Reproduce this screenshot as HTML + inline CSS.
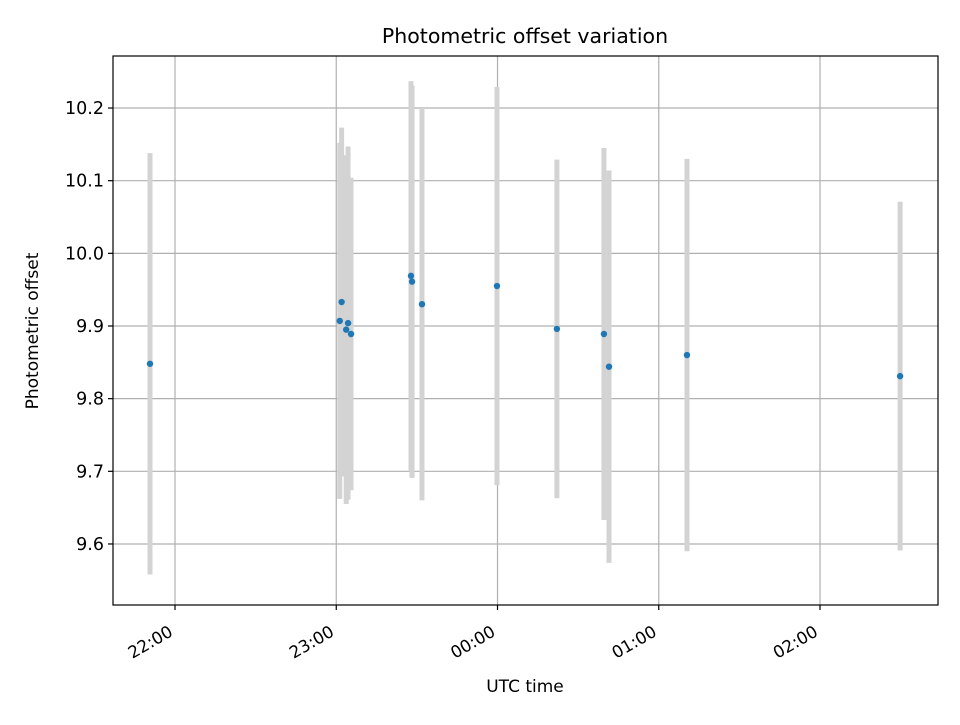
<!DOCTYPE html>
<html><head><meta charset="utf-8"><style>
body{margin:0;background:#fff}
svg text{font-family:"DejaVu Sans","Liberation Sans",sans-serif;fill:#000}
</style></head><body>
<svg id="c" width="960" height="720" xmlns="http://www.w3.org/2000/svg">
<rect width="960" height="720" fill="#fff"/>
<g id="grid"></g>
<g id="bars"></g>
<g id="pts"></g>
<rect x="113" y="56" width="825" height="549" fill="none" stroke="#000" stroke-width="1.2"/>
<g id="ticks"></g>
<text x="525" y="43" font-size="20.5" text-anchor="middle">Photometric offset variation</text>
<text x="525" y="692" font-size="17" text-anchor="middle">UTC time</text>
<text transform="translate(38,331) rotate(-90)" font-size="17" text-anchor="middle">Photometric offset</text>
</svg>
<script>
// minutes since 22:00 UTC
const times=[-9.3,61.3,62.0,63.7,64.4,65.5,87.8,88.2,91.9,119.8,142.1,159.6,161.5,190.5,269.8];
const values=[9.848,9.907,9.933,9.895,9.904,9.889,9.969,9.961,9.930,9.955,9.896,9.889,9.844,9.860,9.831];
const errors=[0.29,0.245,0.24,0.24,0.243,0.215,0.268,0.27,0.27,0.274,0.233,0.256,0.27,0.27,0.24];
const xTickVals=[0,60,120,180,240];
const xTickLabels=["22:00","23:00","00:00","01:00","02:00"];
const yTickVals=[9.6,9.7,9.8,9.9,10.0,10.1,10.2];
const yTickLabels=["9.6","9.7","9.8","9.9","10.0","10.1","10.2"];
const L=113,R=938,T=56,B=605;
const x0=-23.07,x1=283.9,y0=9.516,y1=10.2716;
const X=v=>L+(v-x0)/(x1-x0)*(R-L);
const Y=v=>B-(v-y0)/(y1-y0)*(B-T);
const NS="http://www.w3.org/2000/svg";
function mk(tag,attrs,parent){const e=document.createElementNS(NS,tag);for(const k in attrs)e.setAttribute(k,attrs[k]);document.getElementById(parent).appendChild(e);return e;}
xTickVals.forEach((v,i)=>{
 const g=mk('line',{x1:X(v),x2:X(v),y1:T,y2:B,stroke:'#b0b0b0','stroke-width':1.2},'grid');
 
 
 const t=mk('line',{x1:X(v),x2:X(v),y1:B,y2:B+5,stroke:'#000','stroke-width':1.2},'ticks');
 
 
 const l=mk('text',{'font-size':16.7,'text-anchor':'end',transform:`translate(${X(v)-1},${B+30}) rotate(-30)`},'ticks');
 l.textContent=xTickLabels[i];
 
 
});
yTickVals.forEach((v,i)=>{
 const g=mk('line',{x1:L,x2:R,y1:Y(v),y2:Y(v),stroke:'#b0b0b0','stroke-width':1.2},'grid');
 
 
 const t=mk('line',{x1:L-5,x2:L,y1:Y(v),y2:Y(v),stroke:'#000','stroke-width':1.2},'ticks');
 
 
 const l=mk('text',{x:L-9,y:Y(v)+6,'font-size':17.5,'text-anchor':'end'},'ticks');
 l.textContent=yTickLabels[i];
 
 
});
times.forEach((t,i)=>{
 const b=mk('line',{x1:X(t),x2:X(t),y1:Y(values[i]+errors[i]),y2:Y(values[i]-errors[i]),stroke:'#d3d3d3','stroke-width':5},'bars');
 
 
});
times.forEach((t,i)=>{
 const p=mk('circle',{cx:X(t),cy:Y(values[i]),r:3.2,fill:'#1f77b4'},'pts');
 
 
});
</script>
</body></html>
